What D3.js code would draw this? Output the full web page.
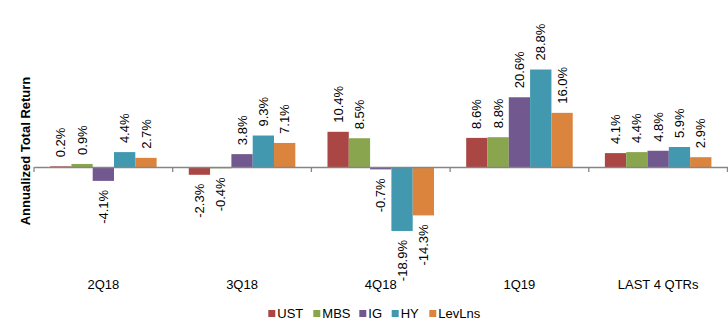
<!DOCTYPE html>
<html>
<head>
<meta charset="utf-8">
<script src="https://cdn.jsdelivr.net/npm/d3@7"></script>
<style>
  html, body { margin: 0; padding: 0; background: #fff; }
  svg { display: block; font-family: "Liberation Sans", Arial, sans-serif; }
</style>
</head>
<body>
<svg id="chart" width="728" height="327"></svg>
<script>
const categories = ["2Q18", "3Q18", "4Q18", "1Q19", "LAST 4 QTRs"];
const seriesNames = ["UST", "MBS", "IG", "HY", "LevLns"];
const seriesColors = ["#AA4643", "#89A54E", "#71588F", "#4198AF", "#DB843D"];
const UST = [0.2, -2.3, 10.4, 8.6, 4.1];
const MBS = [0.9, -0.4, 8.5, 8.8, 4.4];
const IG = [-4.1, 3.8, -0.7, 20.6, 4.8];
const HY = [4.4, 9.3, -18.9, 28.8, 5.9];
const LevLns = [2.7, 7.1, -14.3, 16.0, 2.9];
const seriesValues = [UST, MBS, IG, HY, LevLns];
const yTitle = "Annualized Total Return";

const svg = d3.select("#chart");

const x0 = d3.scaleBand().domain(categories).range([34, 727.5]).paddingInner(0).paddingOuter(0);
const x1 = d3.scaleBand().domain(seriesNames).range([0, x0.bandwidth()]).paddingInner(0).paddingOuter(0.755);
const y = d3.scaleLinear().domain([-20, 30]).range([167 + 20 * 3.385, 167 - 30 * 3.385]);

const data = [];
categories.forEach((c, ci) => {
  seriesNames.forEach((s, si) => {
    data.push({ cat: c, series: s, value: seriesValues[si][ci], color: seriesColors[si] });
  });
});

// bars
svg.append("g").selectAll("rect").data(data).join("rect")
  .attr("x", d => x0(d.cat) + x1(d.series))
  .attr("width", x1.bandwidth())
  .attr("y", d => y(Math.max(0, d.value)))
  .attr("height", d => Math.abs(y(d.value) - y(0)))
  .attr("fill", d => d.color);

// axis
const axis = d3.axisBottom(x0).tickSize(0).tickFormat("");
const axG = svg.append("g").attr("transform", `translate(0,${y(0)})`).call(axis);
axG.select(".domain").attr("stroke", "#868686").attr("stroke-width", 1.3);
const edges = categories.map(c => x0(c)).concat([x0.range()[1]]);
axG.selectAll(".edge").data(edges).join("line")
  .attr("x1", d => d).attr("x2", d => d).attr("y1", 0).attr("y2", 5)
  .attr("stroke", "#868686").attr("stroke-width", 1.3);

// category labels
svg.append("g").selectAll("text").data(categories).join("text")
  .attr("x", d => x0(d) + x0.bandwidth() / 2)
  .attr("y", 284)
  .attr("dy", "0.35em")
  .attr("text-anchor", "middle")
  .attr("font-size", 13)
  .attr("fill", "#000")
  .text(d => d);

// value labels
svg.append("g").selectAll("text").data(data).join("text")
  .attr("transform", d => {
    const cx = x0(d.cat) + x1(d.series) + x1.bandwidth() / 2;
    const yy = d.value >= 0 ? y(d.value) - 9 : y(d.value) + 9;
    return `translate(${cx},${yy}) rotate(-90)`;
  })
  .attr("text-anchor", d => d.value >= 0 ? "start" : "end")
  .attr("dy", "0.35em")
  .attr("font-size", 13)
  .attr("fill", "#000")
  .text(d => d.value.toFixed(1) + "%");

// y title
svg.append("text")
  .attr("transform", "translate(25,151) rotate(-90)")
  .attr("text-anchor", "middle")
  .attr("dy", "0.35em")
  .attr("font-size", 13)
  .attr("font-weight", "bold")
  .attr("fill", "#000")
  .text(yTitle);

// legend
const legendX = [268.3, 313.3, 359.3, 391.7, 429.3];
const lg = svg.append("g").selectAll("g").data(seriesNames).join("g")
  .attr("transform", (d, i) => `translate(${legendX[i]},310)`);
lg.append("rect").attr("width", 7).attr("height", 7).attr("fill", (d, i) => seriesColors[i]);
lg.append("text").attr("x", 9).attr("y", 3.7).attr("dy", "0.35em")
  .attr("font-size", 13).attr("fill", "#000").text(d => d);
</script>
</body>
</html>
